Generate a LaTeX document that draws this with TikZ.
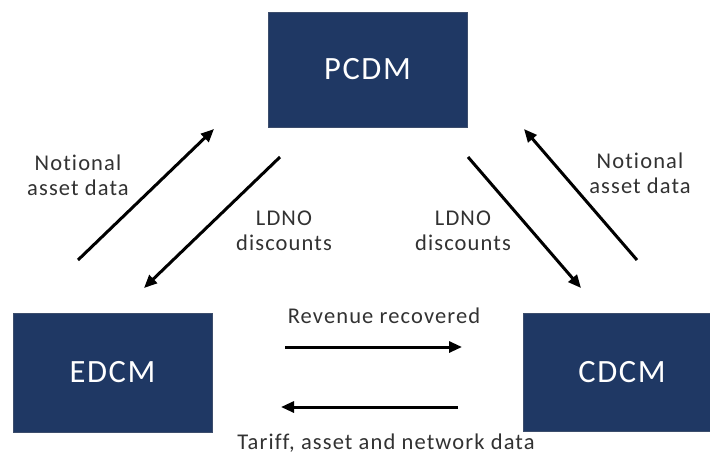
\documentclass[tikz,border=0pt]{standalone}
\usepackage{fontspec}
\setmainfont[Ligatures=NoCommon,LetterSpace=5]{Carlito}
\usetikzlibrary{arrows.meta}
\definecolor{navy}{RGB}{31,56,100}
\definecolor{lbl}{RGB}{50,50,50}
\begin{document}
\begin{tikzpicture}[x=1pt,y=-1pt,
  model/.style={rectangle,fill=navy,draw=navy!70!gray,line width=0.8pt,text=white,
    font=\fontsize{32.5}{36}\selectfont,inner sep=0pt},
  flowlbl/.style={text=lbl,font=\fontsize{22.5}{25}\selectfont,align=center,inner sep=0pt},
  flow/.style={line width=3pt,-{Triangle[length=13pt,width=11pt]}}]
\clip (0,0) rectangle (710,456);
\fill[white] (0,0) rectangle (710,456);
% boxes
\node[model,minimum width=199pt,minimum height=115pt] (pcdm) at (367.5,69.5) {PCDM};
\node[model,minimum width=199pt,minimum height=119pt] (edcm) at (112.5,372.5) {EDCM};
\node[model,minimum width=198pt,minimum height=118pt] (cdcm) at (622,372) {CDCM};
% arrow end points
\coordinate (a1s) at (78,260);  \coordinate (a1e) at (214,129);
\coordinate (a2s) at (280,157); \coordinate (a2e) at (144,288);
\coordinate (a3s) at (468,157); \coordinate (a3e) at (581,288);
\coordinate (a4s) at (637,260); \coordinate (a4e) at (524,129);
\coordinate (h1s) at (285,347); \coordinate (h1e) at (462,347);
\coordinate (h2s) at (458,407); \coordinate (h2e) at (281,407);
\draw[flow] (a1s) -- (a1e);
\draw[flow] (a2s) -- (a2e);
\draw[flow] (a3s) -- (a3e);
\draw[flow] (a4s) -- (a4e);
\draw[flow] (h1s) -- (h1e);
\draw[flow] (h2s) -- (h2e);
% labels
\node[flowlbl] (l1) at (78,175) {Notional\\asset data};
\node[flowlbl] (l2) at (284,231) {LDNO\\discounts};
\node[flowlbl] (l3) at (463,231) {LDNO\\discounts};
\node[flowlbl] (l4) at (640,173) {Notional\\asset data};
\node[flowlbl] (l5) at (384,316) {Revenue recovered};
\node[flowlbl] (l6) at (386,443) {Tariff, asset and network data};
\end{tikzpicture}
\end{document}
